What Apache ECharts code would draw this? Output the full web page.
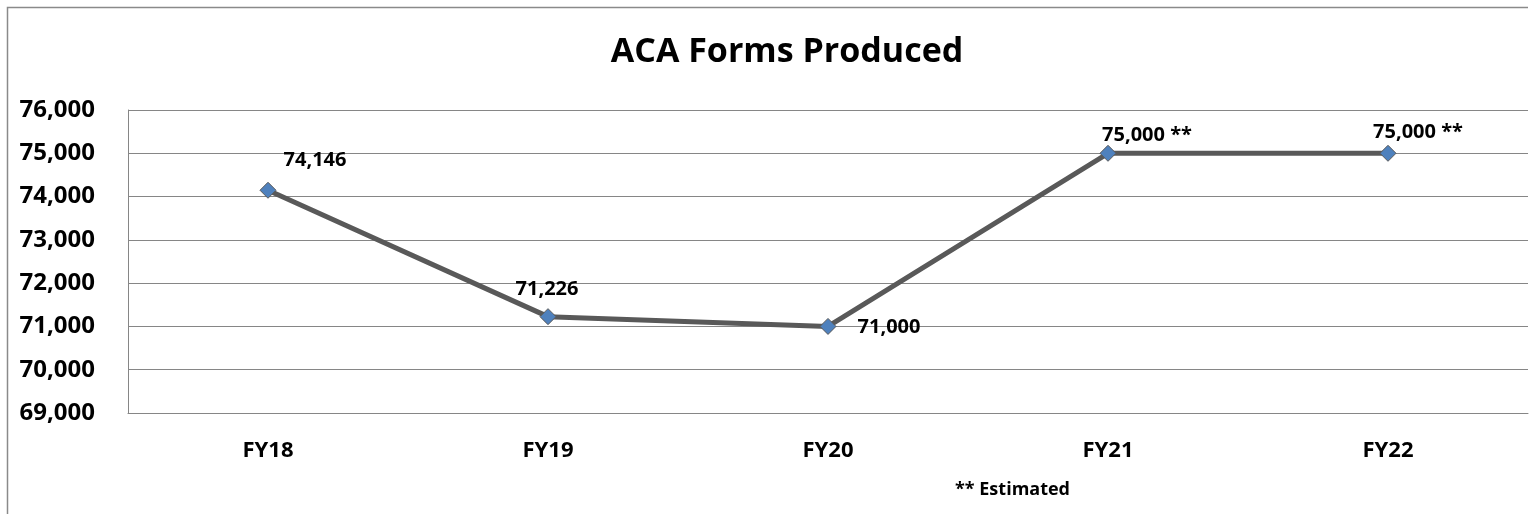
<!DOCTYPE html>
<html>
<head>
<meta charset="utf-8">
<script src="https://cdn.jsdelivr.net/npm/echarts@6/dist/echarts.min.js"></script>
<style>
  html, body { margin: 0; padding: 0; background: #fff; }
  #chart { width: 1538px; height: 514px; }
</style>
</head>
<body>
<div id="chart"></div>
<script>
// data
var categories = ['FY18', 'FY19', 'FY20', 'FY21', 'FY22'];
var formsProduced = [74146, 71226, 71000, 75000, 75000];
var labelSuffix = ['', '', '', ' **', ' **'];   // ** = estimated
var yTicks = [69000, 70000, 71000, 72000, 73000, 74000, 75000, 76000];

// where each value label sits relative to its marker
var labelOffsets = [[47, -30], [-1, -27], [61, 1], [39, -18], [30, -21]];

var font = '"Open Sans", "Liberation Sans", sans-serif';

var chart = echarts.init(document.getElementById('chart'));

var points = formsProduced.map(function (v, i) {
  return {
    value: v,
    label: { offset: labelOffsets[i] }
  };
});

var option = {
  backgroundColor: '#fff',
  animation: false,
  title: {
    text: 'ACA Forms Produced',
    left: 782,
    top: 30,
    textAlign: 'center',
    textStyle: { fontFamily: font, fontWeight: 'bold', fontSize: 34, color: '#000' }
  },
  grid: { left: 128, right: 10, top: 110, bottom: 101 },
  xAxis: {
    type: 'category',
    data: categories,
    boundaryGap: true,
    axisLine: { lineStyle: { color: '#868686', width: 1 } },
    axisTick: { show: false },
    axisLabel: { margin: 27, fontFamily: font, fontWeight: 'bold', fontSize: 22, color: '#000' }
  },
  yAxis: {
    type: 'value',
    min: yTicks[0],
    max: yTicks[yTicks.length - 1],
    interval: 1000,
    axisLine: { show: true, lineStyle: { color: '#868686', width: 1 } },
    axisTick: { show: false },
    splitLine: { lineStyle: { color: '#868686', width: 1 } },
    axisLabel: {
      margin: 33,
      fontFamily: font, fontWeight: 'bold', fontSize: 24, color: '#000',
      formatter: function (v) { return v.toLocaleString('en-US'); }
    }
  },
  series: [{
    name: 'ACA Forms Produced',
    type: 'line',
    data: points,
    symbol: 'diamond',
    symbolSize: 16,
    z: 3,
    lineStyle: { color: '#595959', width: 5 },
    itemStyle: { color: '#4F81BD', borderColor: '#5a5a5a', borderWidth: 1 },
    label: {
      show: true,
      position: 'inside',
      fontFamily: font, fontWeight: 'bold', fontSize: 20, color: '#000',
      formatter: function (p) {
        return p.value.toLocaleString('en-US') + labelSuffix[p.dataIndex];
      }
    }
  }],
  graphic: [
    {
      type: 'polyline',
      shape: { points: [[7.5, 514], [7.5, 7.5], [1528, 7.5]] },
      style: { stroke: '#8a8a8a', lineWidth: 1.5, fill: null }
    },
    {
      type: 'text',
      left: 955,
      top: 481,
      style: { text: '** Estimated', fontFamily: font, fontWeight: 'bold', fontSize: 18, fill: '#000' }
    }
  ]
};

chart.setOption(option);
window.addEventListener('resize', function () { chart.resize(); });
</script>
</body>
</html>
